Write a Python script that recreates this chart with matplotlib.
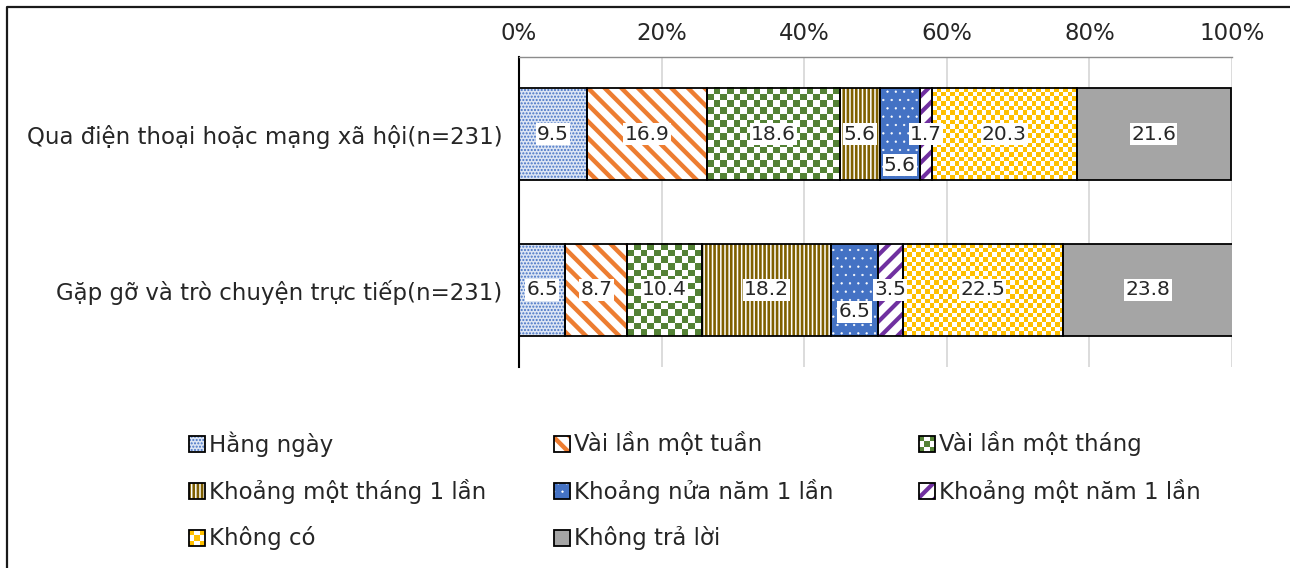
import numpy as np
import matplotlib
matplotlib.use('Agg')
import matplotlib.pyplot as plt
from matplotlib.patches import Rectangle
from matplotlib.colors import ListedColormap
import matplotlib.transforms as mtrans
from matplotlib.lines import Line2D

# ---------------- data ----------------
categories = ['Qua điện thoại hoặc mạng xã hội(n=231)',
              'Gặp gỡ và trò chuyện trực tiếp(n=231)']
series_names = ['Hằng ngày', 'Vài lần một tuần', 'Vài lần một tháng',
                'Khoảng một tháng 1 lần', 'Khoảng nửa năm 1 lần',
                'Khoảng một năm 1 lần', 'Không có', 'Không trả lời']
hang_ngay = [9.5, 6.5]
vai_lan_mot_tuan = [16.9, 8.7]
vai_lan_mot_thang = [18.6, 10.4]
khoang_mot_thang = [5.6, 18.2]
khoang_nua_nam = [5.6, 6.5]
khoang_mot_nam = [1.7, 3.5]
khong_co = [20.3, 22.5]
khong_tra_loi = [21.6, 23.8]
series_values = [hang_ngay, vai_lan_mot_tuan, vai_lan_mot_thang, khoang_mot_thang,
                 khoang_nua_nam, khoang_mot_nam, khong_co, khong_tra_loi]
xticks = [0, 20, 40, 60, 80, 100]
xtick_labels = ['0%', '20%', '40%', '60%', '80%', '100%']

# ---------------- styles ----------------
styles = [
    dict(face='#DCE5F4', hatch='.....', hc='#4472C4', hlw=1.0),
    dict(face='white', hatch='\\\\', hc='#ED7D31', hlw=3.2),
    dict(check='#548235', sq=6.5),
    dict(face='white', hatch='||||', hc='#7F6000', hlw=1.9),
    dict(face='#4472C4', hatch='..', hc='white', hlw=0.4),
    dict(face='white', hatch='//', hc='#7030A0', hlw=3.0),
    dict(check='#FFC000', sq=4.5),
    dict(face='#A5A5A5'),
]
label_dy = {4: [0.20, 0.14]}   # labels shifted below centre for the thin segments

W, H = 1290, 568
FONT = 'DejaVu Sans'
FS = 16.5
FS_LAB = 14.5
TXT = '#262626'

plt.rcParams['font.family'] = [FONT]
plt.rcParams['hatch.linewidth'] = 1.5

fig = plt.figure(figsize=(W / 100, H / 100), dpi=100)
ax_l, ax_r, ax_t, ax_b = 519, 1232, 57, 367
ax = fig.add_axes([ax_l / W, 1 - ax_b / H, (ax_r - ax_l) / W, (ax_b - ax_t) / H])

bar_h = 0.59
m = 0.4936
px_per_unit = (ax_r - ax_l) / 100.0
bar_px = bar_h * (ax_b - ax_t) / (1 + 2 * m)

ypos = np.arange(len(categories))
left = np.zeros(len(categories))


def set_hlw(p, lw):
    if hasattr(p, 'set_hatch_linewidth'):
        try:
            p.set_hatch_linewidth(lw)
        except Exception:
            pass


for si, (vals, st) in enumerate(zip(series_values, styles)):
    vals = np.array(vals)
    if 'check' in st:
        ax.barh(ypos, vals, left=left, height=bar_h, color='white', linewidth=0, zorder=1.5)
        cmap = ListedColormap(['white', st['check']])
        for ci, v in enumerate(vals):
            nx = max(1, int(round(v * px_per_unit / st['sq'])))
            ny = max(1, int(round(bar_px / st['sq'])))
            arr = np.add.outer(np.arange(ny), np.arange(nx)) % 2
            ax.imshow(arr, cmap=cmap, vmin=0, vmax=1, interpolation='nearest', aspect='auto',
                      extent=(left[ci], left[ci] + v, ypos[ci] + bar_h / 2, ypos[ci] - bar_h / 2),
                      zorder=2)
    elif 'hatch' in st:
        with plt.rc_context({'hatch.linewidth': st['hlw']}):
            bars = ax.barh(ypos, vals, left=left, height=bar_h, color=st['face'],
                           edgecolor=st['hc'], hatch=st['hatch'], linewidth=0, zorder=2)
        for p in bars:
            set_hlw(p, st['hlw'])
    else:
        ax.barh(ypos, vals, left=left, height=bar_h, color=st['face'], linewidth=0, zorder=2)
    # black outline
    ax.barh(ypos, vals, left=left, height=bar_h, fill=False, edgecolor='black',
            linewidth=1.3, zorder=3)
    for ci, v in enumerate(vals):
        dy = label_dy.get(si, [0, 0])[ci]
        ax.text(left[ci] + v / 2, ypos[ci] + dy, f'{v:.1f}', ha='center', va='center',
                fontsize=FS_LAB, color=TXT, zorder=5,
                bbox=dict(facecolor='white', edgecolor='none', pad=0.8))
    left = left + vals

ax.set_xlim(0, 100)
ax.set_ylim(len(categories) - 1 + m, -m)
ax.set_xticks(xticks)
ax.set_xticklabels(xtick_labels)
ax.xaxis.tick_top()
ax.tick_params(axis='x', length=0, pad=9, labelsize=FS, labelcolor=TXT)
ax.set_yticks(ypos)
ax.set_yticklabels(categories)
ax.tick_params(axis='y', length=0, pad=12, labelsize=FS, labelcolor=TXT)
ax.grid(axis='x', color='#D9D9D9', linewidth=1.3, zorder=0)
ax.set_axisbelow(True)
for s in ['right', 'bottom']:
    ax.spines[s].set_visible(False)
ax.spines['top'].set_color('#8C8C8C')
ax.spines['top'].set_linewidth(1.0)
ax.spines['left'].set_color('black')
ax.spines['left'].set_linewidth(1.5)

# ---------------- legend (manual, pixel coords from top-left) ----------------
pxT = mtrans.Affine2D().scale(1 / W, -1 / H).translate(0, 1) + fig.transFigure
col_x = [189, 554, 919]
row_y = [444, 491, 538]
legend_order = [[0, 1, 2], [3, 4, 5], [6, 7]]
hs = 16
for r, row in enumerate(legend_order):
    for c, si in enumerate(row):
        st = styles[si]
        x0 = col_x[c]
        y0 = row_y[r] - hs / 2
        if 'check' in st:
            n = 3
            sq = hs / n
            fig.add_artist(Rectangle((x0, y0), hs, hs, transform=pxT, facecolor='white',
                                     linewidth=0))
            for i in range(n):
                for j in range(n):
                    if (i + j) % 2 == 0:
                        fig.add_artist(Rectangle((x0 + j * sq, y0 + i * sq), sq, sq,
                                                 transform=pxT, facecolor=st['check'],
                                                 linewidth=0))
        elif 'hatch' in st:
            with plt.rc_context({'hatch.linewidth': st['hlw']}):
                p = Rectangle((x0, y0), hs, hs, transform=pxT, facecolor=st['face'],
                              edgecolor=st['hc'], hatch=st['hatch'], linewidth=0)
            set_hlw(p, st['hlw'])
            fig.add_artist(p)
        else:
            fig.add_artist(Rectangle((x0, y0), hs, hs, transform=pxT, facecolor=st['face'],
                                     linewidth=0))
        fig.add_artist(Rectangle((x0, y0), hs, hs, transform=pxT, fill=False,
                                 edgecolor='black', linewidth=1.3))
        fig.text(x0 + hs + 4, row_y[r], series_names[si], transform=pxT, ha='left',
                 va='center', fontsize=FS, color=TXT)

# figure border (top and left visible)
fig.add_artist(Line2D([7, 7, W + 5], [H + 5, 7, 7], transform=pxT, color='#1A1A1A',
                      linewidth=1.6))

fig.savefig('out.png', dpi=100)
